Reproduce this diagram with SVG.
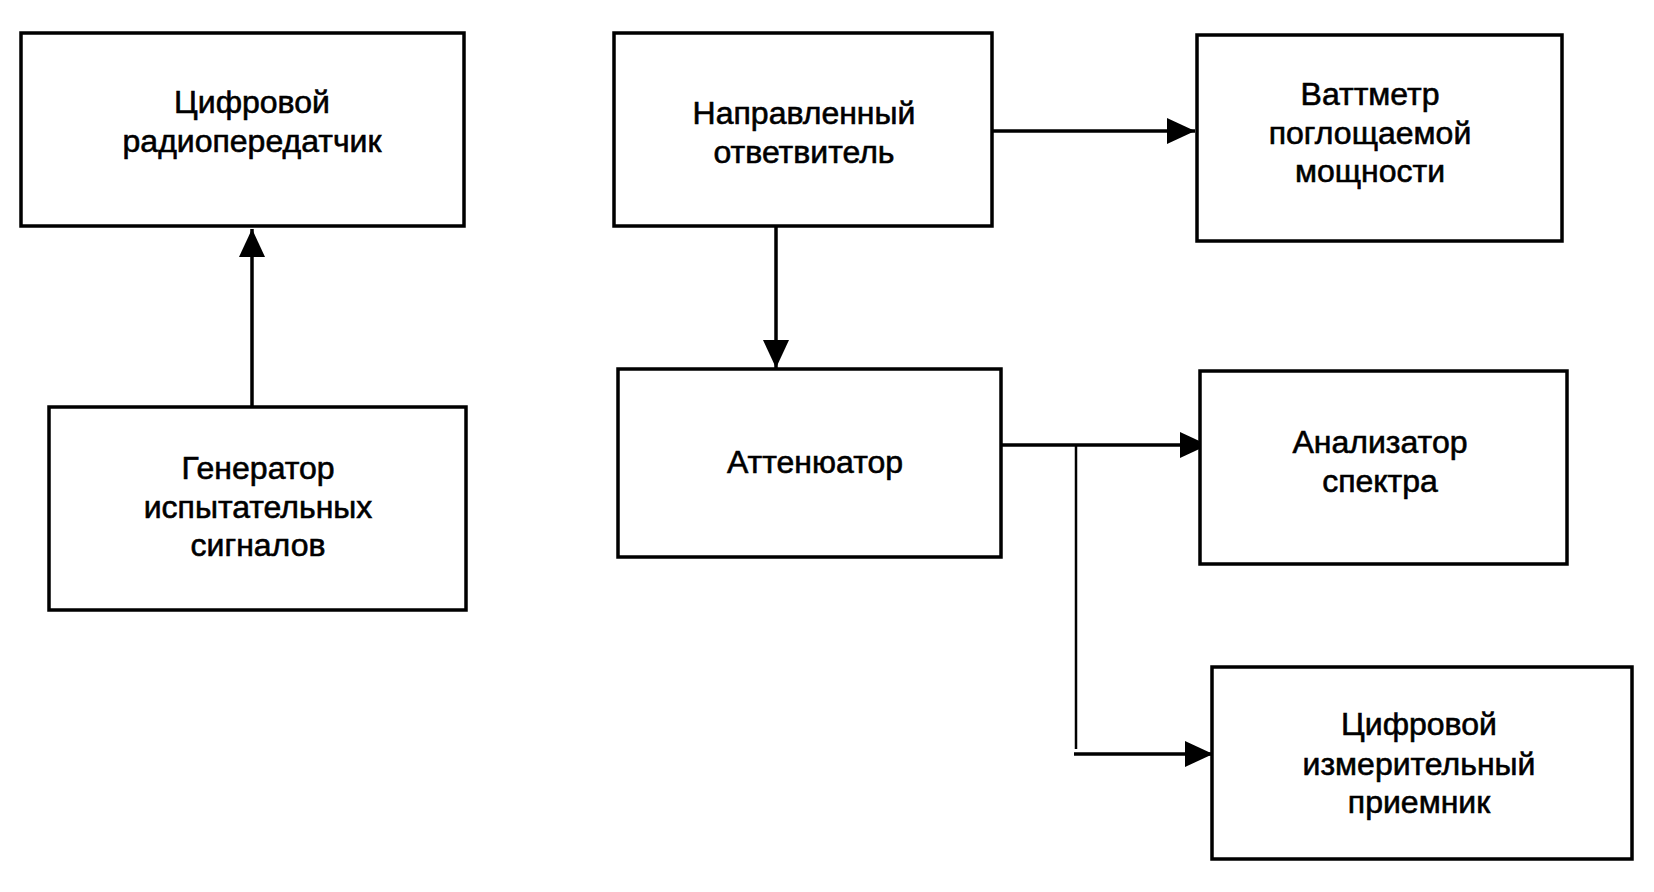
<svg xmlns="http://www.w3.org/2000/svg" width="1654" height="892" viewBox="0 0 1654 892">
<style>
.box{fill:#fff;stroke:#000;stroke-width:3.5}
.lbl{font-family:"Liberation Sans",Arial,sans-serif;font-size:32px;fill:#000;stroke:#000;stroke-width:0.6;text-anchor:middle}
.con{fill:none;stroke:#000;stroke-width:3.5}
.thin{fill:none;stroke:#000;stroke-width:2.5}
</style>
<defs>
<marker id="ah" markerUnits="userSpaceOnUse" markerWidth="30" markerHeight="30" viewBox="0 0 30 30" refX="28" refY="15" orient="auto">
<path d="M0,2 L28,15 L0,28 Z" fill="#000"/>
</marker>
</defs>
<rect width="1654" height="892" fill="#fff"/>
<g id="connectors">
<path class="con" d="M252,407 V229" marker-end="url(#ah)"/>
<path class="con" d="M993,131 H1195" marker-end="url(#ah)"/>
<path class="con" d="M776,226 V368" marker-end="url(#ah)"/>
<path class="con" d="M1001,445 H1208" marker-end="url(#ah)"/>
<path class="thin" d="M1076,445 V749"/>
<path class="con" d="M1074,754 H1213" marker-end="url(#ah)"/>
</g>
<g id="n1">
<rect class="box" x="21" y="33" width="443" height="193"/>
<text class="lbl" x="252" y="113">Цифровой</text>
<text class="lbl" x="252" y="152">радиопередатчик</text>
</g>
<g id="n2">
<rect class="box" x="49" y="407" width="417" height="203"/>
<text class="lbl" x="258" y="479">Генератор</text>
<text class="lbl" x="258" y="518">испытательных</text>
<text class="lbl" x="258" y="556">сигналов</text>
</g>
<g id="n3">
<rect class="box" x="614" y="33" width="378" height="193"/>
<text class="lbl" x="804" y="124">Направленный</text>
<text class="lbl" x="804" y="163">ответвитель</text>
</g>
<g id="n4">
<rect class="box" x="1197" y="35" width="365" height="206"/>
<text class="lbl" x="1370" y="105">Ваттметр</text>
<text class="lbl" x="1370" y="144">поглощаемой</text>
<text class="lbl" x="1370" y="182">мощности</text>
</g>
<g id="n5">
<rect class="box" x="618" y="369" width="383" height="188"/>
<text class="lbl" x="815" y="473">Аттенюатор</text>
</g>
<g id="n6">
<rect class="box" x="1200" y="371" width="367" height="193"/>
<text class="lbl" x="1380" y="453">Анализатор</text>
<text class="lbl" x="1380" y="492">спектра</text>
</g>
<g id="n7">
<rect class="box" x="1212" y="667" width="420" height="192"/>
<text class="lbl" x="1419" y="735">Цифровой</text>
<text class="lbl" x="1419" y="775">измерительный</text>
<text class="lbl" x="1419" y="813">приемник</text>
</g>
</svg>
